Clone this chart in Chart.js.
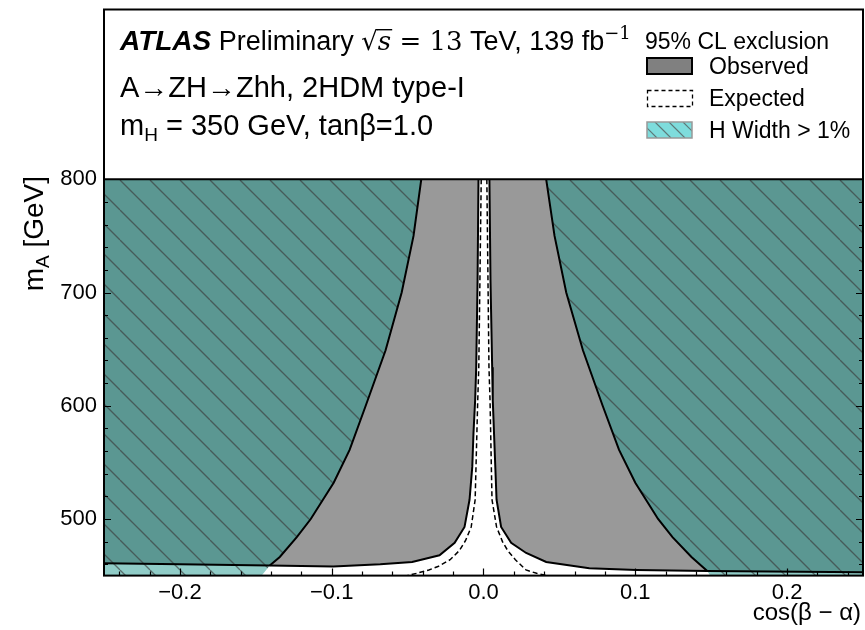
<!DOCTYPE html>
<html>
<head>
<meta charset="utf-8">
<script src="https://cdn.jsdelivr.net/npm/chart.js@4"></script>
<style>
  html, body { margin: 0; padding: 0; background: #fff; }
</style>
</head>
<body>
<canvas id="limitChart" width="865" height="630"></canvas>
<script>
// axis range
const X_MIN = -0.25, X_MAX = 0.25;
const Y_MIN = 450, Y_CUT = 800, Y_MAX = 950;

// tick labels
const xMajor = [-0.2, -0.1, 0.0, 0.1, 0.2];
const xLabels = ['\u22120.2', '\u22120.1', '0.0', '0.1', '0.2'];
const yMajor = [500, 600, 700, 800];
const yLabels = ['500', '600', '700', '800'];

// observed contour, left branch (bottom edge -> up the funnel)
const obsLeftCos  = [-0.25, -0.2, -0.141, -0.099, -0.068, -0.047, -0.029, -0.019, -0.0125, -0.0092, -0.0074, -0.0066, -0.0055, -0.0048, -0.0039, -0.0033];
const obsLeftMass = [461, 460, 459, 458, 460, 462, 468, 479, 493, 517, 546, 576, 605, 634, 711, 800];
// observed contour, right branch (top of funnel -> along the bottom)
const obsRightCos  = [0.0039, 0.0046, 0.0057, 0.0061, 0.0086, 0.0116, 0.0182, 0.0281, 0.0413, 0.0697, 0.1007, 0.1474, 0.25];
const obsRightMass = [800, 711, 634, 605, 517, 493, 479, 470, 462, 456.4, 455, 454, 453];

// expected contour (dashed)
const expLeftCos  = [-0.0015, -0.0031, -0.0038, -0.0055, -0.0081, -0.0118, -0.016, -0.022, -0.030, -0.036, -0.044, -0.050];
const expLeftMass = [800, 634, 605, 517, 493, 481, 472, 464, 458, 455, 452, 450];
const expRightCos  = [0.0022, 0.0036, 0.0043, 0.0056, 0.0086, 0.0125, 0.016, 0.021, 0.028, 0.035, 0.042];
const expRightMass = [800, 634, 605, 517, 493, 480, 472, 464, 455, 452, 450];

// H width > 1% boundary
const tealLeftCos  = [-0.041, -0.0461, -0.0539, -0.0645, -0.0776, -0.0882, -0.0987, -0.1138, -0.123, -0.1342, -0.1408, -0.1461];
const tealLeftMass = [800, 750, 700, 649, 600, 561, 532, 500, 484, 466.5, 459, 450];
const tealRightCos  = [0.0413, 0.0468, 0.0545, 0.0655, 0.0785, 0.0893, 0.1, 0.115, 0.1245, 0.137, 0.1474, 0.1493];
const tealRightMass = [800, 750, 700, 649, 600, 561, 532, 500, 484, 466.5, 454, 450];

function pts(cs, ms) {
  return cs.map((c, i) => ({ x: c, y: ms[i] }));
}

function makeHatch() {
  const c = document.createElement('canvas');
  c.width = 30; c.height = 30;
  const g = c.getContext('2d');
  g.fillStyle = 'rgba(24,148,138,0.48)';
  g.fillRect(0, 0, 30, 30);
  g.strokeStyle = 'rgba(60,60,60,0.65)';
  g.lineWidth = 1.3;
  for (const k of [-30, 0, 30]) {
    g.beginPath(); g.moveTo(k, 0); g.lineTo(k + 30, 30); g.stroke();
  }
  return g.createPattern(c, 'repeat');
}

const SANS = '"Liberation Sans", Arial, Helvetica, sans-serif';
const SERIF = '"DejaVu Serif", "Liberation Serif", serif';

// polygons
const obsLeftPoly = [{ x: X_MIN, y: Y_CUT }].concat(pts(obsLeftCos, obsLeftMass));
const obsRightPoly = pts(obsRightCos, obsRightMass).concat([{ x: X_MAX, y: Y_CUT }]);
const tealLeftPoly = [{ x: X_MIN, y: Y_CUT }].concat(pts(tealLeftCos, tealLeftMass), [{ x: X_MIN, y: Y_MIN }]);
const tealRightPoly = pts(tealRightCos, tealRightMass).concat([{ x: X_MAX, y: Y_MIN }, { x: X_MAX, y: Y_CUT }]);

const hatch = makeHatch();

function fillSet(data, color, order) {
  return { data: data, fill: 'shape', backgroundColor: color, borderWidth: 0, borderColor: 'rgba(0,0,0,0)', pointRadius: 0, tension: 0, order: order };
}
function lineSet(data, width, dash) {
  return { data: data, fill: false, borderColor: '#000', borderWidth: width, borderDash: dash || [], pointRadius: 0, tension: 0, order: 0 };
}

function drawRich(ctx, parts, x, y) {
  for (const p of parts) {
    ctx.font = p.font;
    ctx.fillText(p.t, x, y + (p.dy || 0));
    x += ctx.measureText(p.t).width;
  }
  return x;
}
function richWidth(ctx, parts) {
  let w = 0;
  for (const p of parts) { ctx.font = p.font; w += ctx.measureText(p.t).width; }
  return w;
}

const decor = {
  id: 'decor',
  afterDraw(chart) {
    const ctx = chart.ctx;
    const a = chart.chartArea;
    const xs = chart.scales.x, ys = chart.scales.y;
    ctx.save();
    ctx.fillStyle = '#000';
    ctx.strokeStyle = '#000';

    // inward ticks
    ctx.lineWidth = 1.2;
    ctx.beginPath();
    for (let v = -0.24; v < 0.2401; v += 0.02) {
      const px = Math.round(xs.getPixelForValue(v)) + 0.5;
      const major = xMajor.some(m => Math.abs(m - v) < 1e-6);
      const len = major ? 7 : 4;
      ctx.moveTo(px, a.bottom); ctx.lineTo(px, a.bottom - len);
    }
    for (let v = 460; v <= Y_CUT; v += 20) {
      const py = Math.round(ys.getPixelForValue(v)) + 0.5;
      const len = yMajor.includes(v) ? 7 : 4;
      ctx.moveTo(a.left, py); ctx.lineTo(a.left + len, py);
      ctx.moveTo(a.right, py); ctx.lineTo(a.right - len, py);
    }
    ctx.stroke();

    // frame
    ctx.lineWidth = 2;
    ctx.strokeRect(a.left, a.top, a.right - a.left, a.bottom - a.top);

    // axis titles
    ctx.textBaseline = 'alphabetic';
    ctx.textAlign = 'left';
    const xt = [{ t: 'cos(\u03b2 \u2212 \u03b1)', font: '24px ' + SANS }];
    drawRich(ctx, xt, 861 - richWidth(ctx, xt), 620);

    const yt = [
      { t: 'm', font: '28px ' + SANS },
      { t: 'A', font: '19px ' + SANS, dy: 6 },
      { t: ' [GeV]', font: '28px ' + SANS }
    ];
    ctx.save();
    ctx.translate(43, 176);
    ctx.rotate(-Math.PI / 2);
    drawRich(ctx, yt, -richWidth(ctx, yt), 0);
    ctx.restore();

    // ATLAS label
    let x = drawRich(ctx, [
      { t: 'ATLAS', font: 'italic bold 28px ' + SANS },
      { t: ' Preliminary ', font: '27px ' + SANS }
    ], 120, 50);
    ctx.font = '26px ' + SERIF;
    ctx.fillText('\u221a', x, 50);
    x += ctx.measureText('\u221a').width;
    ctx.font = 'italic 26px ' + SERIF;
    const sw = ctx.measureText('s').width;
    ctx.fillText('s', x, 50);
    ctx.fillRect(x - 1, 29, sw + 2, 1.4);
    x += sw;
    x = drawRich(ctx, [
      { t: ' = 13', font: '26px ' + SERIF },
      { t: ' TeV, 139 fb', font: '27px ' + SANS },
      { t: '\u22121', font: '18px ' + SERIF, dy: -11 }
    ], x, 50);

    drawRich(ctx, [{ t: 'A\u2192ZH\u2192Zhh, 2HDM type-I', font: '29px ' + SANS }], 120, 97);
    drawRich(ctx, [
      { t: 'm', font: '29px ' + SANS },
      { t: 'H', font: '19px ' + SANS, dy: 6 },
      { t: ' = 350 GeV, tan\u03b2=1.0', font: '29px ' + SANS }
    ], 120, 135);

    // legend
    drawRich(ctx, [{ t: '95% CL exclusion', font: '23px ' + SANS }], 645, 49);
    const lx = 647, lw = 45, lh = 16;
    // observed
    ctx.fillStyle = '#808080';
    ctx.fillRect(lx, 58, lw, lh);
    ctx.lineWidth = 2;
    ctx.strokeStyle = '#000';
    ctx.strokeRect(lx, 58, lw, lh);
    // expected
    ctx.lineWidth = 1.3;
    ctx.setLineDash([4, 3]);
    ctx.strokeRect(lx + 0.5, 90.5, lw, lh);
    ctx.setLineDash([]);
    // H width
    ctx.fillStyle = 'rgb(126,220,220)';
    ctx.fillRect(lx, 122, lw, lh);
    ctx.save();
    ctx.beginPath(); ctx.rect(lx, 122, lw, lh); ctx.clip();
    ctx.strokeStyle = 'rgba(90,110,110,0.9)';
    ctx.lineWidth = 1.2;
    ctx.beginPath();
    for (let k = -20; k < lw + 20; k += 14) {
      ctx.moveTo(lx + k, 122); ctx.lineTo(lx + k + lh, 122 + lh);
    }
    ctx.stroke();
    ctx.restore();
    ctx.strokeStyle = '#999';
    ctx.lineWidth = 1.5;
    ctx.strokeRect(lx, 122, lw, lh);

    ctx.fillStyle = '#000';
    drawRich(ctx, [{ t: 'Observed', font: '23px ' + SANS }], 709, 74);
    drawRich(ctx, [{ t: 'Expected', font: '23px ' + SANS }], 709, 106);
    drawRich(ctx, [{ t: 'H Width > 1%', font: '23px ' + SANS }], 709, 138);

    ctx.restore();
  }
};

new Chart(document.getElementById('limitChart'), {
  type: 'line',
  data: {
    datasets: [
      lineSet(pts(obsLeftCos, obsLeftMass), 2),
      lineSet(pts(obsRightCos, obsRightMass), 2),
      lineSet(pts(tealLeftCos, tealLeftMass).slice(0, -1), 2),
      lineSet(pts(tealRightCos, tealRightMass).slice(0, -1), 2),
      lineSet(pts(expLeftCos, expLeftMass), 1.5, [5, 3]),
      lineSet(pts(expRightCos, expRightMass), 1.5, [5, 3]),
      lineSet([{ x: X_MIN, y: Y_CUT }, { x: X_MAX, y: Y_CUT }], 2),
      fillSet(tealLeftPoly, hatch, 1),
      fillSet(tealRightPoly, hatch, 1),
      fillSet(obsLeftPoly, '#999999', 2),
      fillSet(obsRightPoly, '#999999', 2)
    ]
  },
  options: {
    responsive: false,
    animation: false,
    devicePixelRatio: 1,
    layout: { padding: { top: 9.5, right: 2, left: 0, bottom: 0 } },
    plugins: { legend: { display: false }, tooltip: { enabled: false } },
    scales: {
      x: {
        type: 'linear', min: X_MIN, max: X_MAX,
        grid: { display: false, drawTicks: false },
        border: { display: false },
        afterBuildTicks: s => { s.ticks = xMajor.map(v => ({ value: v })); },
        afterFit: s => { s.height = 54.4; s.paddingLeft = 0; s.paddingRight = 0; },
        ticks: {
          padding: 4, color: '#000', maxRotation: 0,
          font: { family: SANS, size: 22 },
          callback: (v, i) => xLabels[i]
        }
      },
      y: {
        type: 'linear', min: Y_MIN, max: Y_MAX,
        grid: { display: false, drawTicks: false },
        border: { display: false },
        afterBuildTicks: s => { s.ticks = yMajor.map(v => ({ value: v })); },
        afterFit: s => { s.width = 104; s.paddingTop = 0; s.paddingBottom = 0; },
        ticks: {
          padding: 7, color: '#000',
          font: { family: SANS, size: 22 },
          callback: (v, i) => yLabels[i]
        }
      }
    }
  },
  plugins: [decor]
});
</script>
</body>
</html>
